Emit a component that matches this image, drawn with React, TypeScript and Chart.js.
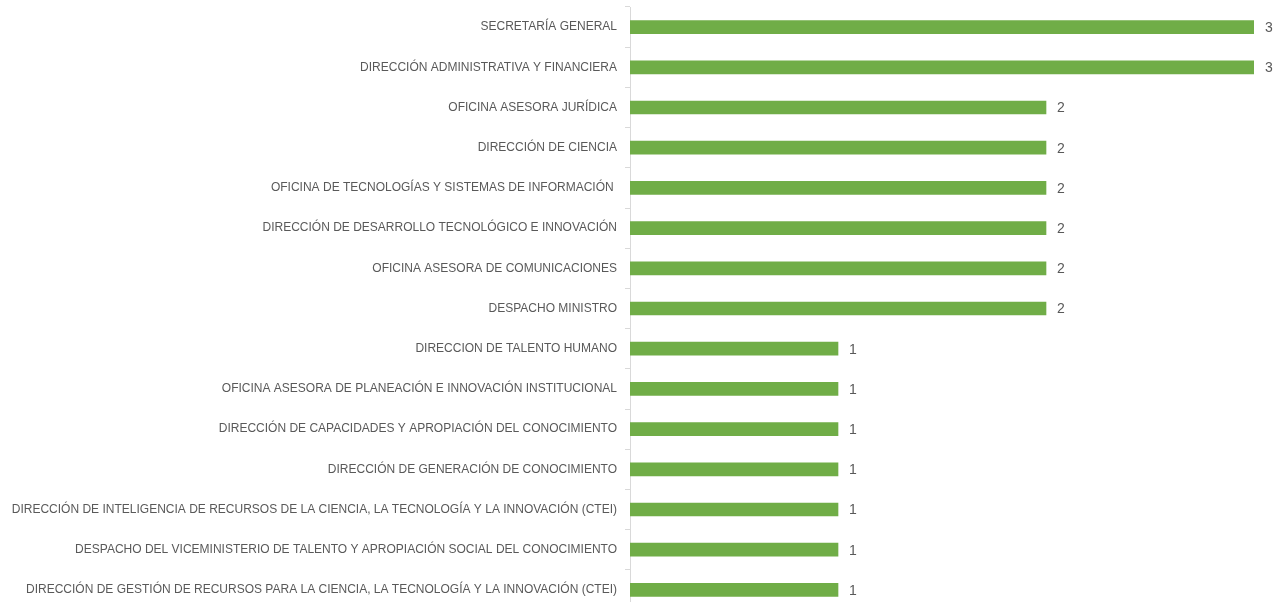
import React, { useEffect, useRef } from "react";
import { Chart, registerables } from "chart.js";

Chart.register(...registerables);

const categories: string[] = [
  "SECRETARÍA GENERAL",
  "DIRECCIÓN ADMINISTRATIVA Y FINANCIERA",
  "OFICINA ASESORA JURÍDICA",
  "DIRECCIÓN DE CIENCIA",
  "OFICINA DE TECNOLOGÍAS Y SISTEMAS DE INFORMACIÓN ",
  "DIRECCIÓN DE DESARROLLO TECNOLÓGICO E INNOVACIÓN",
  "OFICINA ASESORA DE COMUNICACIONES",
  "DESPACHO MINISTRO",
  "DIRECCION DE TALENTO HUMANO",
  "OFICINA ASESORA DE PLANEACIÓN E INNOVACIÓN INSTITUCIONAL",
  "DIRECCIÓN DE CAPACIDADES Y APROPIACIÓN DEL CONOCIMIENTO",
  "DIRECCIÓN DE GENERACIÓN DE CONOCIMIENTO",
  "DIRECCIÓN DE INTELIGENCIA DE RECURSOS DE LA CIENCIA, LA TECNOLOGÍA Y LA INNOVACIÓN (CTEI)",
  "DESPACHO DEL VICEMINISTERIO DE TALENTO Y APROPIACIÓN SOCIAL DEL CONOCIMIENTO",
  "DIRECCIÓN DE GESTIÓN DE RECURSOS PARA LA CIENCIA, LA TECNOLOGÍA Y LA INNOVACIÓN (CTEI)",
];

const values: number[] = [3, 3, 2, 2, 2, 2, 2, 2, 1, 1, 1, 1, 1, 1, 1];

const FONT = "'Liberation Sans', 'DejaVu Sans', sans-serif";

const valueLabels = {
  id: "valueLabels",
  afterDatasetsDraw(chart: any) {
    const ctx = chart.ctx;
    const meta = chart.getDatasetMeta(0);
    ctx.save();
    ctx.fillStyle = "#595959";
    ctx.font = `14px ${FONT}`;
    ctx.textAlign = "left";
    ctx.textBaseline = "middle";
    meta.data.forEach((bar: any, i: number) => {
      ctx.fillText(String(values[i]), bar.x + 11, bar.y + 1);
    });
    ctx.restore();
  },
};

export default function App() {
  const ref = useRef<HTMLCanvasElement | null>(null);
  useEffect(() => {
    if (!ref.current) return;
    const chart = new Chart(ref.current, {
      type: "bar",
      data: {
        labels: categories,
        datasets: [
          {
            data: values,
            backgroundColor: "#70AD47",
            borderWidth: 0,
            barThickness: 13,
          },
        ],
      },
      plugins: [valueLabels],
      options: {
        indexAxis: "y",
        animation: false,
        responsive: false,
        maintainAspectRatio: false,
        layout: { padding: { top: 7, bottom: 10, left: 0, right: 27 } },
        plugins: {
          legend: { display: false },
          tooltip: { enabled: false },
        },
        scales: {
          x: {
            display: false,
            min: 0,
            max: 3,
          },
          y: {
            afterFit: (axis: any) => {
              axis.width = 630;
              axis.paddingTop = 0;
              axis.paddingBottom = 0;
            },
            grid: {
              offset: true,
              drawOnChartArea: false,
              drawTicks: true,
              tickLength: 5,
              color: "#d9d9d9",
            },
            border: { display: true, color: "#d9d9d9", width: 1 },
            ticks: {
              color: "#595959",
              padding: 8,
              font: { size: 12, family: FONT },
              autoSkip: false,
            },
          },
        },
      },
    } as any);
    return () => chart.destroy();
  }, []);
  return (
    <div style={{ position: "fixed", left: 0, top: 0, width: 1281, height: 620, background: "#fff" }}>
      <canvas ref={ref} width={1281} height={620} style={{ display: "block" }} />
    </div>
  );
}
